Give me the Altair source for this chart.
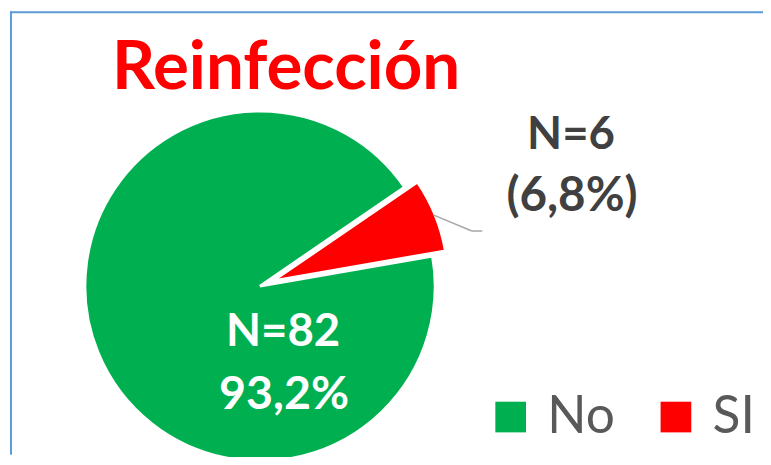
import math
import altair as alt
import pandas as pd

# ---- data ----
categorias = ["No", "SI"]
casos = [82, 6]
etiqueta_n = ["N=82", "N=6"]
etiqueta_pct = ["93,2%", "(6,8%)"]
titulo = ["Reinfección"]

df = pd.DataFrame({"cat": categorias, "n": casos, "ln": etiqueta_n, "lp": etiqueta_pct})

W, H = 763, 449
CX, CY = 254.7, 278.7
R = 177
START = math.radians(55.6)
EXPLODE_DX, EXPLODE_DY = 13, -5.3

base = (
    alt.Chart(df)
    .transform_joinaggregate(total="sum(n)")
    .transform_window(cum="sum(n)", sort=[alt.SortField("cat", order="descending")])
    .transform_calculate(t0="(datum.cum - datum.n) / datum.total", t1="datum.cum / datum.total")
)

color = alt.Color(
    "cat:N",
    scale=alt.Scale(domain=categorias, range=["#00B050", "#FF0000"]),
    legend=alt.Legend(
        orient="none", legendX=482, legendY=385, direction="horizontal", title=None,
        symbolType="square", symbolSize=961, symbolStrokeWidth=0,
        labelFont="Lato", labelFontSize=52, labelColor="#595959",
        labelOffset=11, columnPadding=35, padding=0, labelLimit=0,
    ),
)
theta = alt.Theta("t0:Q", scale=alt.Scale(domain=[0, 1], range=[START, START + 2 * math.pi]))
theta2 = alt.Theta2("t1:Q")

green = base.transform_filter("datum.cat == 'No'").mark_arc(
    outerRadius=R, stroke="white", strokeWidth=3
).encode(theta=theta, theta2=theta2, color=color, x=alt.value(CX), y=alt.value(CY))

red = base.transform_filter("datum.cat == 'SI'").mark_arc(
    outerRadius=R, stroke="white", strokeWidth=3
).encode(theta=theta, theta2=theta2, color=color,
         x=alt.value(CX + EXPLODE_DX), y=alt.value(CY + EXPLODE_DY))

txt_style = dict(font="Lato", fontWeight="bold", align="center", baseline="middle")

no_n = base.transform_filter("datum.cat == 'No'").mark_text(color="white", fontSize=46, **txt_style).encode(
    text="ln:N", x=alt.value(278), y=alt.value(325))
no_p = base.transform_filter("datum.cat == 'No'").mark_text(color="white", fontSize=47, **txt_style).encode(
    text="lp:N", x=alt.value(279), y=alt.value(389))
si_n = base.transform_filter("datum.cat == 'SI'").mark_text(color="#404040", fontSize=46, **txt_style).encode(
    text="ln:N", x=alt.value(569), y=alt.value(126))
si_p = base.transform_filter("datum.cat == 'SI'").mark_text(color="#404040", fontSize=48, **txt_style).encode(
    text="lp:N", x=alt.value(570), y=alt.value(189))

title = alt.Chart(pd.DataFrame({"t": titulo})).mark_text(
    font="Lato", fontSize=68, fontWeight="bold", color="#FF0000", align="left", baseline="alphabetic"
).encode(text="t:N", x=alt.value(105), y=alt.value(79))

one = pd.DataFrame({"a": [0]})
leader1 = alt.Chart(one).mark_rule(color="#A6A6A6", strokeWidth=1.5).encode(
    x=alt.value(430.3), y=alt.value(207), x2=alt.value(468.7), y2=alt.value(223))
leader2 = alt.Chart(one).mark_rule(color="#A6A6A6", strokeWidth=1.5).encode(
    x=alt.value(468.7), y=alt.value(223), x2=alt.value(479.3), y2=alt.value(223))

border_top = alt.Chart(one).mark_rule(color="#5B9BD5", strokeWidth=2).encode(
    x=alt.value(2), x2=alt.value(W), y=alt.value(2))
border_left = alt.Chart(one).mark_rule(color="#5B9BD5", strokeWidth=2).encode(
    x=alt.value(3), y=alt.value(1), y2=alt.value(H))

chart = alt.layer(
    green, red, no_n, no_p, si_n, si_p, title, leader1, leader2, border_top, border_left
).properties(
    width=W, height=H, padding=0,
    autosize=alt.AutoSizeParams(type="fit", contains="padding"),
).configure_view(stroke=None)

chart.save("out.html", embed_options={"renderer": "svg", "actions": False})
